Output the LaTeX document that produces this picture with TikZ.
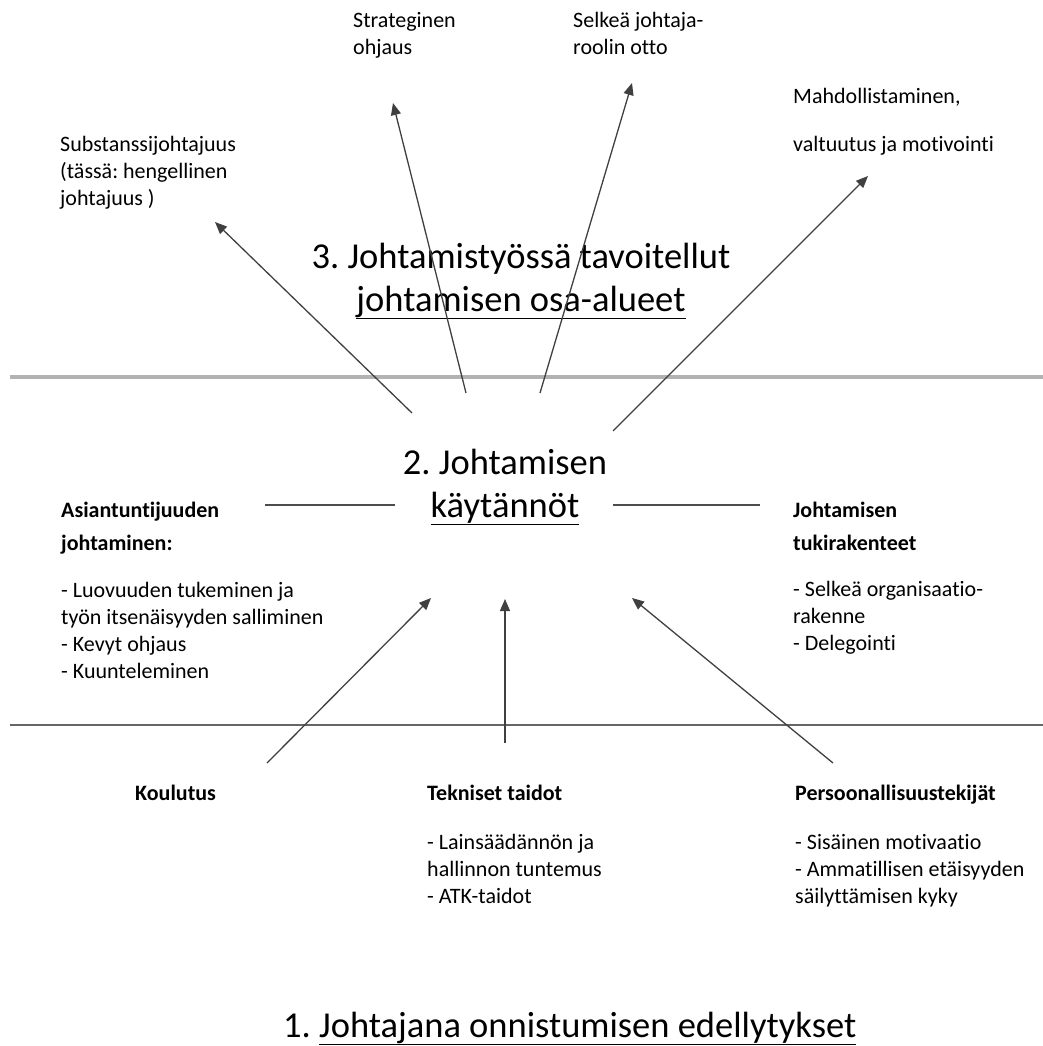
\documentclass[tikz,border=0pt]{standalone}
\usepackage{fontspec}
\setmainfont{Carlito}[Ligatures=NoCommon]
\frenchspacing
\usetikzlibrary{arrows.meta}
\newcommand{\smalltext}{\fontsize{22}{27}\selectfont}
\newcommand{\bigtext}{\fontsize{36.5}{43}\selectfont}
\tikzset{
    item/.style={anchor=base west, align=left, inner sep=0pt, font=\smalltext},
    itemhead/.style={item, font=\smalltext\bfseries},
    title/.style={anchor=base, align=center, inner sep=0pt, font=\bigtext},
    pointer/.style={-{Triangle[length=12pt, width=10pt]}, line width=1.3pt, black!75},
    link/.style={line width=2pt, black!70},
    divider/.style={line width=4.5pt, black!30}
}

\begin{document}
\begin{tikzpicture}[x=1pt, y=-1pt]
    \useasboundingbox (0,0) rectangle (1043,1046);

    \node[item] (strat) at (353,55) {Strateginen\\ohjaus};
    \node[item] (selkea) at (573,55) {Selkeä johtaja-\\roolin otto};
    \node[item] (mahd) at (793,151) {Mahdollistaminen,\\[21pt]valtuutus ja motivointi};
    \node[item] (subst) at (60,205) {Substanssijohtajuus\\(tässä: hengellinen\\johtajuus )};
    \node[title] (osa) at (521,311) {3. Johtamistyössä tavoitellut\\\underline{johtamisen osa-alueet}};

    \node[title] (kaytannot) at (505,517) {2. Johtamisen\\\underline{käytännöt}};
    \node[itemhead] (asiant) at (61,550) {Asiantuntijuuden\\[6pt]johtaminen:};
    \node[item] (asiantlist) at (61,678) {- Luovuuden tukeminen ja\\työn itsenäisyyden salliminen\\- Kevyt ohjaus\\- Kuunteleminen};
    \node[itemhead] (tuki) at (793,550) {Johtamisen\\[6pt]tukirakenteet};
    \node[item] (tukilist) at (793,650) {- Selkeä organisaatio-\\rakenne\\- Delegointi};

    \node[itemhead] (koul) at (135,800) {Koulutus};
    \node[itemhead] (tekn) at (427,800) {Tekniset taidot};
    \node[item] (teknlist) at (427,903) {- Lainsäädännön ja\\hallinnon tuntemus\\- ATK-taidot};
    \node[itemhead] (pers) at (795,800) {Persoonallisuustekijät};
    \node[item] (perslist) at (795,903) {- Sisäinen motivaatio\\- Ammatillisen etäisyyden\\säilyttämisen kyky};
    \node[title, anchor=base west] (edell) at (283,1037) {1. \underline{Johtajana onnistumisen edellytykset}};

    \draw[divider] (10,377) -- (1043,377);
    \draw[divider, line width=2.5pt, black!60] (10,725) -- (1043,725);

    \coordinate (up1) at (412,413);  \coordinate (to1) at (215,222);
    \coordinate (up2) at (466,393);  \coordinate (to2) at (393,103);
    \coordinate (up3) at (540,393);  \coordinate (to3) at (632,83);
    \coordinate (up4) at (613,431);  \coordinate (to4) at (868,176);
    \coordinate (in1) at (267,763);  \coordinate (at1) at (431,598);
    \coordinate (in2) at (505,743);  \coordinate (at2) at (505,599);
    \coordinate (in3) at (833,763);  \coordinate (at3) at (632,598);
    \coordinate (left1) at (395,505); \coordinate (left2) at (265,505);
    \coordinate (right1) at (613,505); \coordinate (right2) at (760,505);

    \draw[pointer] (up1) -- (to1);
    \draw[pointer] (up2) -- (to2);
    \draw[pointer] (up3) -- (to3);
    \draw[pointer] (up4) -- (to4);
    \draw[pointer] (in1) -- (at1);
    \draw[pointer] (in2) -- (at2);
    \draw[pointer] (in3) -- (at3);
    \draw[link] (left1) -- (left2);
    \draw[link] (right1) -- (right2);
\end{tikzpicture}
\end{document}
